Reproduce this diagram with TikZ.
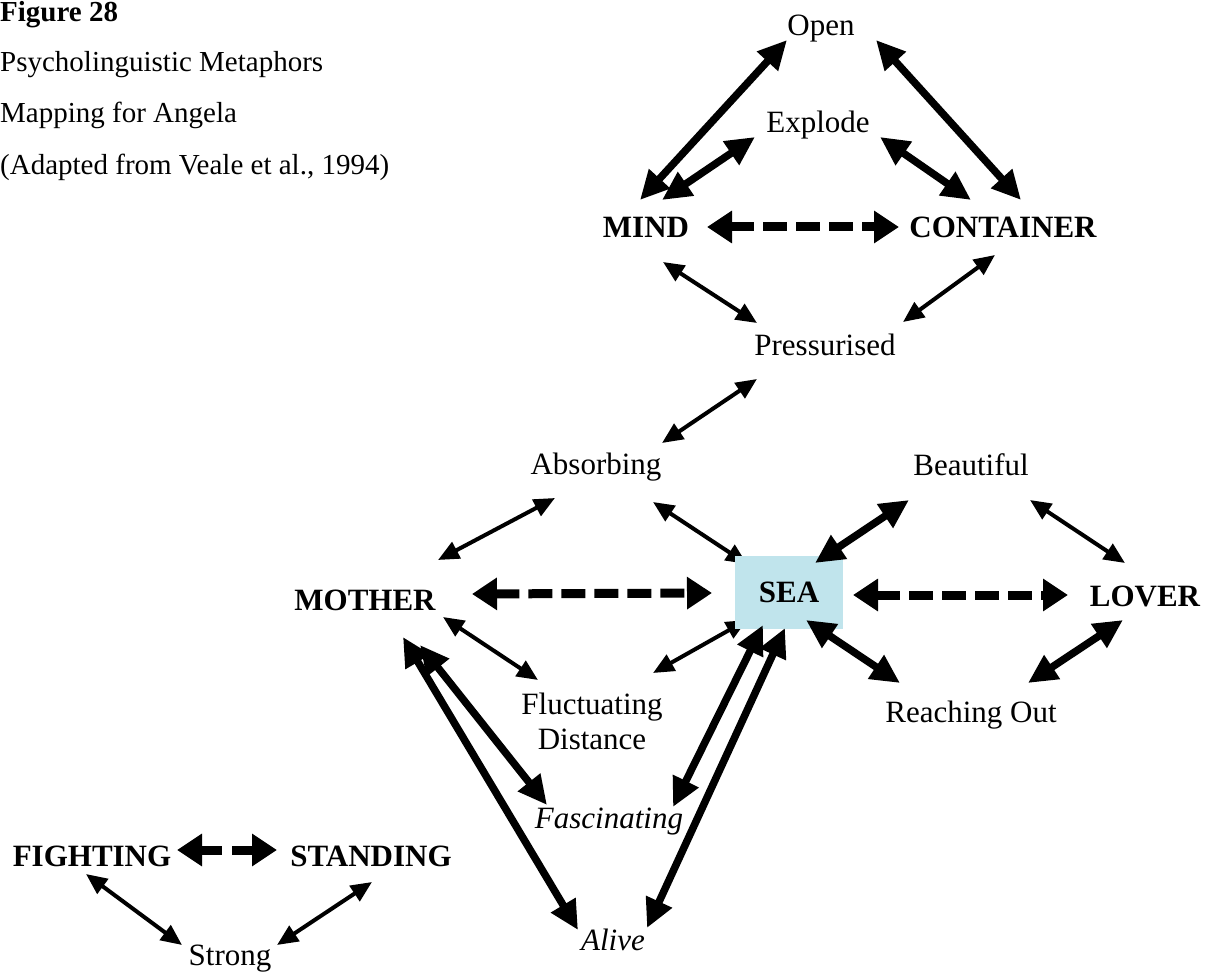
\documentclass[tikz,border=0pt]{standalone}
\usepackage{fontspec}
\setmainfont{Liberation Serif}
\usetikzlibrary{arrows.meta}
\definecolor{seablue}{RGB}{192,228,236}
\pgfdeclarelayer{bg}
\pgfsetlayers{bg,main}
\begin{document}
\begin{tikzpicture}[x=1pt,y=-1pt,
  lbl/.style={anchor=base,inner sep=0pt,font=\fontsize{31}{35}\selectfont},
  key/.style={anchor=base,inner sep=0pt,font=\fontsize{31}{35}\selectfont\bfseries},
  ttl/.style={anchor=base west,inner sep=0pt,font=\fontsize{29}{34}\selectfont},
  thinarr/.style={line width=4pt,{Triangle[length=21pt,width=18pt]}-{Triangle[length=21pt,width=18pt]}},
  thickarr/.style={line width=7.5pt,{Triangle[length=29pt,width=27pt]}-{Triangle[length=29pt,width=27pt]}},
  dasharr/.style={line width=9pt,dash pattern=on 24pt off 9pt,{Triangle[length=25pt,width=31pt]}-{Triangle[length=25pt,width=31pt]}}
]
\useasboundingbox (0,0) rectangle (1211,973);

% title block
\node[ttl,font=\fontsize{29}{34}\selectfont\bfseries] (t1) at (0,22) {Figure 28};
\node[ttl] (t2) at (0,72) {Psycholinguistic Metaphors};
\node[ttl] (t3) at (0,123) {Mapping for Angela};
\node[ttl] (t4) at (0,175) {(Adapted from Veale et al., 1994)};

% nodes
\node[lbl] (open) at (821,36) {Open};
\node[lbl] (explode) at (818,133) {Explode};
\node[key] (mind) at (646,238) {MIND};
\node[key] (container) at (1003,238) {CONTAINER};
\node[lbl] (press) at (825,356) {Pressurised};
\node[lbl] (absorb) at (596,475) {Absorbing};
\node[lbl] (beaut) at (971,476) {Beautiful};
\node[key] (mother) at (365,610) {MOTHER};
\node[key,anchor=center,fill=seablue,minimum width=108pt,minimum height=73pt] (sea) at (789,592) {SEA};
\node[key] (lover) at (1145,606) {LOVER};
\node[lbl,anchor=center,align=center] (fluct) at (592,721) {Fluctuating\\Distance};
\node[lbl] (reach) at (971,722) {Reaching Out};
\node[lbl,font=\fontsize{31}{35}\selectfont\itshape] (fasc) at (609,828) {Fascinating};
\node[lbl,font=\fontsize{31}{35}\selectfont\itshape] (alive) at (613,950) {Alive};
\node[key] (fight) at (92,866) {FIGHTING};
\node[key] (stand) at (371,866) {STANDING};
\node[lbl] (strong) at (230,965) {Strong};

% top cluster
\draw[thickarr] ([shift={(-6,-38)}]mind.base) -- ([shift={(-34,4)}]open.base);
\draw[thickarr] ([shift={(16,-38)}]mind.base) -- ([shift={(-63,4)}]explode.base);
\draw[thickarr] ([shift={(62,4)}]explode.base) -- ([shift={(-32,-38)}]container.base);
\draw[thickarr] ([shift={(55,4)}]open.base) -- ([shift={(18,-38)}]container.base);
\draw[dasharr] ([shift={(61,-11)}]mind.base) -- ([shift={(-104,-11)}]container.base);
\draw[thinarr] ([shift={(17,24)}]mind.base) -- ([shift={(-68,-33)}]press.base);
\draw[thinarr] ([shift={(-8,17)}]container.base) -- ([shift={(78,-34)}]press.base);
\draw[thinarr] ([shift={(-68,23)}]press.base) -- ([shift={(66,-32)}]absorb.base);

% middle cluster
\draw[thinarr] ([shift={(-41,23)}]absorb.base) -- ([shift={(73,-50)}]mother.base);
\begin{pgfonlayer}{bg}
\draw[thinarr] ([shift={(57,27)}]absorb.base) -- ([shift={(-42,-28)}]sea.center);
\draw[thinarr] ([shift={(-42,28)}]sea.center) -- ([shift={(61,-48)}]fluct.center);
\end{pgfonlayer}
\draw[thickarr] ([shift={(-62,24)}]beaut.base) -- ([shift={(26,-29)}]sea.center);
\draw[thinarr] ([shift={(59,24)}]beaut.base) -- ([shift={(-20,-43)}]lover.base);
\draw[dasharr] ([shift={(107,-16)}]mother.base) -- ([shift={(-77,1)}]sea.center);
\draw[dasharr] ([shift={(64,3)}]sea.center) -- ([shift={(-77,-11)}]lover.base);
\draw[thinarr] ([shift={(78,7)}]mother.base) -- ([shift={(-54,-41)}]fluct.center);
\draw[thickarr] ([shift={(17,28)}]sea.center) -- ([shift={(-71,-39)}]reach.base);
\draw[thickarr] ([shift={(-22,14)}]lover.base) -- ([shift={(57,-39)}]reach.base);

% lower V
\draw[thickarr] ([shift={(55,35)}]mother.base) -- ([shift={(-62,-23)}]fasc.base);
\draw[thickarr] ([shift={(38,27)}]mother.base) -- ([shift={(-35,-20)}]alive.base);
\draw[thickarr] ([shift={(-26,33)}]sea.center) -- ([shift={(64,-21)}]fasc.base);
\draw[thickarr] ([shift={(-4,36)}]sea.center) -- ([shift={(34,-22)}]alive.base);

% bottom-left cluster
\draw[dasharr,dash pattern=on 22pt off 10pt] ([shift={(85,-16)}]fight.base) -- ([shift={(-94,-16)}]stand.base);
\draw[thinarr] ([shift={(-6,8)}]fight.base) -- ([shift={(-48,-20)}]strong.base);
\draw[thinarr] ([shift={(1,16)}]stand.base) -- ([shift={(47,-20)}]strong.base);
\end{tikzpicture}
\end{document}
